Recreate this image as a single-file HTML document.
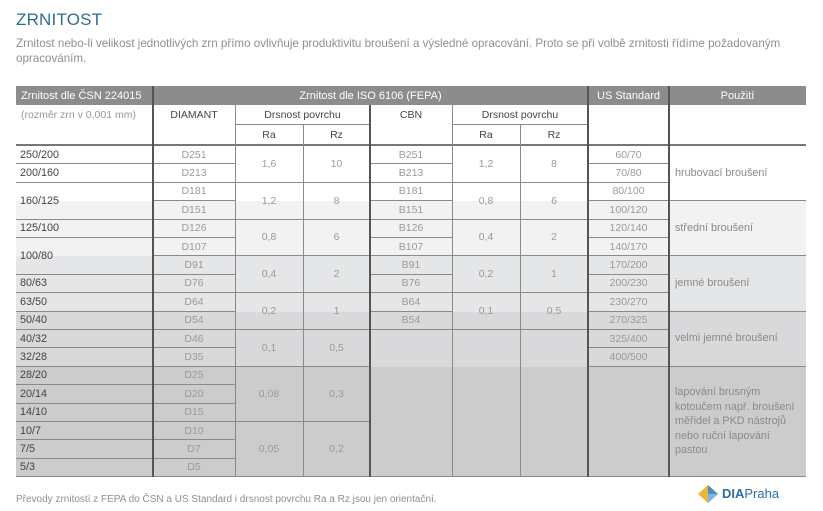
<!DOCTYPE html>
<html><head><meta charset="utf-8">
<style>
body{margin:0;width:823px;height:511px;background:#fff;font-family:"Liberation Sans",sans-serif;position:relative;overflow:hidden}
.a{position:absolute;box-sizing:border-box}
.c{position:absolute;box-sizing:border-box;display:flex;align-items:center;justify-content:center;font-size:10.5px;color:#9a9a9a;white-space:nowrap}
</style></head><body>
<div class="a" style="left:16px;top:10px;font-size:17px;color:#2b6e92;letter-spacing:0.2px">ZRNITOST</div>
<div class="a" style="left:16px;top:36px;width:790px;font-size:11.6px;line-height:15px;color:#8f8f8f">Zrnitost nebo-li velikost jednotlivých zrn přímo ovlivňuje produktivitu broušení a výsledné opracování. Proto se při volbě zrnitosti řídíme požadovaným opracováním.</div>
<div id="tbl"></div>
<div class="a" style="left:16px;top:494px;font-size:10px;color:#8f8f8f">Převody zrnitostí z FEPA do ČSN a US Standard i drsnost povrchu Ra a Rz jsou jen orientační.</div>
<div class="a" style="left:697px;top:484px;width:110px;height:20px">
<svg width="22" height="20" style="position:absolute;left:0;top:0"><polygon points="11,1 21,10 11,19 1,10" fill="#f0b43c"/><polygon points="11,1 21,10 11,10" fill="#4a8fc8"/><polygon points="11,10 21,10 11,19" fill="#7fb6e0"/></svg>
<span style="position:absolute;left:25px;top:2px;font-size:13px;color:#2b6ea6"><b>DIA</b>Praha</span></div>
<script>
const csn=["250/200","200/160","160/125","125/100","100/80","80/63","63/50","50/40","40/32","32/28","28/20","20/14","14/10","10/7","7/5","5/3"];
const csnSpan=[1,1,2,1,2,1,1,1,1,1,1,1,1,1,1,1];
const diamant=["D251","D213","D181","D151","D126","D107","D91","D76","D64","D54","D46","D35","D25","D20","D15","D10","D7","D5"];
const dRa=["1,6","1,2","0,8","0,4","0,2","0,1","0,08","0,05"];
const dRz=["10","8","6","2","1","0,5","0,3","0,2"];
const dSpan=[2,2,2,2,2,2,3,3];
const cbn=["B251","B213","B181","B151","B126","B107","B91","B76","B64","B54"];
const cRa=["1,2","0,8","0,4","0,2","0,1"];
const cRz=["8","6","2","1","0,5"];
const us=["60/70","70/80","80/100","100/120","120/140","140/170","170/200","200/230","230/270","270/325","325/400","400/500"];
const use=["hrubovací broušení","střední broušení","jemné broušení","velmi jemné broušení","lapování brusným kotoučem např. broušení měřidel a PKD nástrojů nebo ruční lapování pastou"];
const useSpan=[3,3,3,3,6];
const bands=["#ffffff","#f2f2f3","#e5e6e8","#d9d9db","#cccccc"];
const X=[16,153,235,303,370,452,520,588,669,806];
const Y0=146,RH=18.4,N=18;
const T=document.getElementById('tbl');
function box(x,y,w,h,css,txt,name){const d=document.createElement('div');d.className='c';d.style.cssText+=`left:${x}px;top:${y}px;width:${w}px;height:${h}px;`+css;if(txt!==undefined)d.innerHTML=txt;


T.appendChild(d);return d;}
const ry=r=>Y0+r*RH;
let r=0;useSpan.forEach((s,i)=>{box(X[0],ry(r),X[9]-X[0],s*RH,'background:'+bands[i],'', 'band-'+i);r+=s;});
box(X[0],86,X[9]-X[0],19,'background:#8c8c8c','','header-bg');
box(X[0],86,X[1]-X[0],19,'color:#fff;font-size:11px;justify-content:flex-start;padding-left:5px','Zrnitost dle ČSN 224015','header-csn');
box(X[1],86,X[7]-X[1],19,'color:#fff;font-size:11px','Zrnitost dle ISO 6106 (FEPA)','header-iso');
box(X[7],86,X[8]-X[7],19,'color:#fff;font-size:11px','US Standard','header-us');
box(X[8],86,X[9]-X[8],19,'color:#fff;font-size:11px','Použití','header-use');
box(X[0],105,X[1]-X[0],20,'color:#999;font-size:10.5px;justify-content:flex-start;padding-left:5px','(rozměr zrn v 0,001 mm)','header-size-note');
box(X[1],105,X[2]-X[1],20,'color:#444','DIAMANT','header-diamant');
box(X[2],105,X[4]-X[2],20,'color:#444;border-bottom:1px solid #888','Drsnost povrchu','header-d-roughness');
box(X[2],125,X[3]-X[2],20,'color:#444','Ra','header-d-ra');
box(X[3],125,X[4]-X[3],20,'color:#444','Rz','header-d-rz');
box(X[4],105,X[5]-X[4],20,'color:#444','CBN','header-cbn');
box(X[5],105,X[7]-X[5],20,'color:#444;border-bottom:1px solid #888','Drsnost povrchu','header-c-roughness');
box(X[5],125,X[6]-X[5],20,'color:#444','Ra','header-c-ra');
box(X[6],125,X[7]-X[6],20,'color:#444','Rz','header-c-rz');
box(X[0],144,X[9]-X[0],2,'background:#777','','header-rule');
const L='border-bottom:1px solid #8a8a8a;';
r=0;csn.forEach((v,i)=>{box(X[0],ry(r),X[1]-X[0],csnSpan[i]*RH,L+'color:#444;justify-content:flex-start;padding-left:4px;font-size:10.8px',v,'csn-'+v);r+=csnSpan[i];});
diamant.forEach((v,i)=>box(X[1],ry(i),X[2]-X[1],RH,L,v,'diamant-'+v));
r=0;dRa.forEach((v,i)=>{box(X[2],ry(r),X[3]-X[2],dSpan[i]*RH,L,v,'d-ra-'+i);box(X[3],ry(r),X[4]-X[3],dSpan[i]*RH,L,dRz[i],'d-rz-'+i);r+=dSpan[i];});
cbn.forEach((v,i)=>box(X[4],ry(i),X[5]-X[4],RH,L,v,'cbn-'+v));
cRa.forEach((v,i)=>{box(X[5],ry(i*2),X[6]-X[5],2*RH,L,v,'c-ra-'+i);box(X[6],ry(i*2),X[7]-X[6],2*RH,L,cRz[i],'c-rz-'+i);});
box(X[4],ry(10),X[7]-X[4],8*RH,L,'','cbn-empty');
us.forEach((v,i)=>box(X[7],ry(i),X[8]-X[7],RH,L,v,'us-'+v));
box(X[7],ry(12),X[8]-X[7],6*RH,L,'','us-empty');
r=0;use.forEach((v,i)=>{box(X[8],ry(r),X[9]-X[8],useSpan[i]*RH,L+'justify-content:flex-start;padding:0 8px 0 6px;white-space:normal;line-height:14.5px;color:#8a8a8a;font-size:10.8px',v,'use-'+i);r+=useSpan[i];});
const vTop=[86,105,125,105,105,125,86,86];
X.slice(1,9).forEach((x,i)=>{const thick=[0,3,6,7].includes(i);box(x-(thick?1:0.5),vTop[i],thick?2:1,ry(N)-vTop[i],'background:'+(thick?'#555':'#8a8a8a'),'','vline-'+i);});
</script>
</body></html>
